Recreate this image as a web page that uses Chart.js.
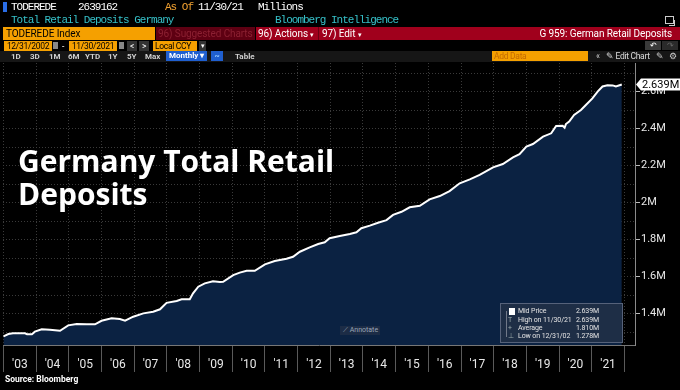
<!DOCTYPE html>
<html>
<head>
<meta charset="utf-8">
<script src="https://cdn.jsdelivr.net/npm/chart.js@4.4.0/dist/chart.umd.min.js"></script>
<style>
body{margin:0;background:#000;width:680px;height:390px;overflow:hidden;position:relative;font-family:Roboto,sans-serif;color:#fff}
#c{position:absolute;left:0;top:0}
.a{position:absolute;white-space:nowrap}
.mono{font-family:"Liberation Mono",monospace;font-size:11px;letter-spacing:-1px;line-height:13px}
.bar{font-size:10px;line-height:13px;letter-spacing:-0.1px}
.sm{font-size:8.5px;line-height:10px;letter-spacing:-0.3px}
.btn{font-size:8px;line-height:10px;font-weight:bold;color:#cfcfcf}
.lg{font-size:7px;line-height:8.4px;letter-spacing:-0.1px;color:#e4e4e4}
</style>
</head>
<body>
<canvas id="c" width="680" height="390"></canvas>

<!-- header rows -->
<div class="a" style="left:3px;top:2px;width:4px;height:10px;background:#2a6ee8"></div>
<div class="a mono" style="left:11px;top:1px">TODEREDE</div>
<div class="a mono" style="left:78px;top:1px">2639162</div>
<div class="a mono" style="left:165px;top:1px;color:#f0a030">As Of</div>
<div class="a mono" style="left:198px;top:1px">11/30/21</div>
<div class="a mono" style="left:258px;top:1px">Millions</div>
<div class="a mono" style="left:11px;top:14px;color:#36c0c8">Total Retail Deposits Germany</div>
<div class="a mono" style="left:275px;top:14px;color:#36c0c8">Bloomberg Intelligence</div>
<div class="a" style="left:665px;top:16px;width:7px;height:6px;border:1px solid #ccc"></div>
<div class="a" style="left:669px;top:20px;width:5px;height:5px;border-right:1px solid #ccc;border-bottom:1px solid #ccc"></div>

<div class="a bar" style="left:3px;top:27px;width:152px;height:13px;background:#f5a000;color:#000;padding-left:3px;box-sizing:border-box">TODEREDE Index</div>
<div class="a bar" style="left:156px;top:27px;width:99px;height:13px;background:#5e0012;color:#8c2032;padding-left:2px;box-sizing:border-box;overflow:hidden">96) Suggested Charts</div>
<div class="a bar" style="left:256px;top:27px;width:424px;height:13px;background:#a0001c"></div>
<div class="a bar" style="left:258px;top:27px">96) Actions <span style="font-size:7px">▾</span></div>
<div class="a" style="left:318px;top:27px;width:1px;height:13px;background:#6a0010"></div>
<div class="a bar" style="left:322px;top:27px">97) Edit <span style="font-size:7px">▾</span></div>
<div class="a bar" style="right:8px;top:27px">G 959: German Retail Deposits</div>

<div class="a sm" style="left:4px;top:41px;width:48px;height:10px;background:#f5a000;color:#000;text-align:center">12/31/2002</div>
<div class="a" style="left:53px;top:42px;width:5px;height:7px;background:#888"></div>
<div class="a sm" style="left:62px;top:41px">-</div>
<div class="a sm" style="left:69px;top:41px;width:48px;height:10px;background:#f5a000;color:#000;text-align:center">11/30/2021</div>
<div class="a" style="left:119px;top:42px;width:5px;height:7px;background:#888"></div>
<div class="a sm" style="left:127px;top:41px;width:10px;height:10px;background:#333;text-align:center">&lt;</div>
<div class="a sm" style="left:139px;top:41px;width:10px;height:10px;background:#333;text-align:center">&gt;</div>
<div class="a sm" style="left:153px;top:41px;width:44px;height:10px;background:#f5a000;color:#000;padding-left:2px;box-sizing:border-box">Local CCY</div>
<div class="a sm" style="left:199px;top:41px;width:7px;height:10px;background:#333;text-align:center;font-size:7px">▾</div>
<div class="a sm" style="left:645px;top:41px;width:16px;height:9px;background:#3a3a3a;text-align:center;font-size:8px;line-height:9px">↶</div>
<div class="a sm" style="left:662px;top:41px;width:16px;height:9px;background:#2a2a2a;color:#666;text-align:center;font-size:8px;line-height:9px">↷</div>

<div class="a" style="left:0;top:51px;width:680px;height:11px;background:#161616"></div>
<div class="a btn" style="left:11px;top:52px">1D</div>
<div class="a btn" style="left:30px;top:52px">3D</div>
<div class="a btn" style="left:49px;top:52px">1M</div>
<div class="a btn" style="left:68px;top:52px">6M</div>
<div class="a btn" style="left:85px;top:52px">YTD</div>
<div class="a btn" style="left:108px;top:52px">1Y</div>
<div class="a btn" style="left:127px;top:52px">5Y</div>
<div class="a btn" style="left:145px;top:52px">Max</div>
<div class="a btn" style="left:166px;top:51px;width:41px;height:10px;background:#1f5fd0;color:#fff;padding-left:3px;box-sizing:border-box">Monthly ▾</div>
<div class="a btn" style="left:211px;top:51px;width:12px;height:10px;background:#1f5fd0;color:#9cf;text-align:center">~</div>
<div class="a btn" style="left:235px;top:52px">Table</div>
<div class="a sm" style="left:492px;top:51px;width:96px;height:10px;background:#f5a000;color:#c46a00;padding-left:2px;box-sizing:border-box">Add Data</div>
<div class="a sm" style="left:596px;top:51px;color:#ccc">«</div>
<div class="a sm" style="left:606px;top:51px;color:#ddd">✎ Edit Chart</div>
<div class="a sm" style="left:656px;top:51px;color:#ccc">✎</div>
<div class="a sm" style="left:669px;top:51px;color:#ccc">⚙</div>

<!-- title -->
<div class="a" style="left:18px;top:145px;font-family:'Open Sans',sans-serif;font-weight:bold;font-size:30px;line-height:32.5px">Germany Total Retail<br>Deposits</div>

<!-- annotate -->
<div class="a" style="left:340px;top:326px;width:40px;height:9px;background:#1c2c46;color:#9aa6b8;font-size:7px;line-height:9px;padding-left:3px;box-sizing:border-box">⟋ Annotate</div>

<!-- legend box -->
<div class="a" style="left:500px;top:303px;width:123px;height:40px;background:rgba(34,48,70,0.85);border:1px solid #56627a;box-sizing:border-box"></div>
<div class="a" style="left:506px;top:311px;width:1px;height:26px;background:#707888"></div>
<div class="a" style="left:509px;top:308px;width:6px;height:7px;background:#fff"></div>
<div class="a lg" style="left:508px;top:316px;color:#9aa">T</div>
<div class="a lg" style="left:508px;top:324px;color:#9aa">+</div>
<div class="a lg" style="left:508px;top:332px;color:#9aa">⊥</div>
<div class="a lg" style="left:518px;top:307px">Mid Price</div>
<div class="a lg" style="left:518px;top:316px">High on 11/30/21</div>
<div class="a lg" style="left:518px;top:324px">Average</div>
<div class="a lg" style="left:518px;top:332px">Low on 12/31/02</div>
<div class="a lg" style="right:81px;top:307px">2.639M</div>
<div class="a lg" style="right:81px;top:316px">2.639M</div>
<div class="a lg" style="right:81px;top:324px">1.810M</div>
<div class="a lg" style="right:81px;top:332px">1.278M</div>

<div class="a" style="left:5px;top:374px;font-size:8.5px;font-weight:bold">Source: Bloomberg</div>

<script>
// month-end dates as decimal years, values in M (millions of EUR millions)
var dates = [
  2003.00, 2003.15, 2003.29, 2003.66, 2003.72, 2003.87, 2003.96,
  2004.17, 2004.42, 2004.73, 2004.98,
  2005.24, 2005.55, 2005.80,
  2006.00, 2006.31, 2006.56, 2006.72, 2006.97,
  2007.28, 2007.58, 2007.79, 2007.99,
  2008.30, 2008.45, 2008.70, 2008.80, 2008.96,
  2009.16, 2009.41, 2009.62, 2009.72,
  2010.03, 2010.23, 2010.44, 2010.69,
  2011.00, 2011.30, 2011.66, 2011.86,
  2012.07, 2012.37, 2012.63, 2012.83, 2012.98,
  2013.29, 2013.60, 2013.80, 2013.95,
  2014.21, 2014.46, 2014.72, 2014.92,
  2015.18, 2015.43, 2015.74,
  2016.04, 2016.35, 2016.65, 2016.96,
  2017.27, 2017.57, 2017.98,
  2018.28, 2018.59, 2018.79,
  2019.00, 2019.20, 2019.51, 2019.76, 2019.91,
  2020.11, 2020.17, 2020.21, 2020.31, 2020.46, 2020.67, 2020.82,
  2021.02, 2021.18, 2021.33, 2021.48, 2021.64, 2021.74, 2021.92
];
var deposits = [
  1.278, 1.290, 1.294, 1.294, 1.289, 1.289, 1.303,
  1.316, 1.314, 1.308, 1.337,
  1.344, 1.343, 1.343,
  1.362, 1.375, 1.371, 1.362, 1.384,
  1.402, 1.411, 1.424, 1.459,
  1.469, 1.478, 1.478, 1.510, 1.546,
  1.564, 1.575, 1.571, 1.573,
  1.609, 1.622, 1.632, 1.632,
  1.667, 1.685, 1.697, 1.708,
  1.735, 1.759, 1.777, 1.786, 1.808,
  1.820, 1.831, 1.840, 1.862,
  1.876, 1.892, 1.906, 1.934,
  1.951, 1.975, 1.983,
  2.018, 2.036, 2.063, 2.105,
  2.126, 2.150, 2.191,
  2.209, 2.245, 2.262,
  2.303, 2.317, 2.357, 2.375, 2.415,
  2.416, 2.405, 2.425, 2.438, 2.474, 2.501, 2.528,
  2.564, 2.600, 2.628, 2.635, 2.634, 2.628, 2.639
];
var years = [2003, 2004, 2005, 2006, 2007, 2008, 2009, 2010, 2011, 2012, 2013, 2014, 2015, 2016, 2017, 2018, 2019, 2020, 2021];
var yearLabels = ["'03", "'04", "'05", "'06", "'07", "'08", "'09", "'10", "'11", "'12", "'13", "'14", "'15", "'16", "'17", "'18", "'19", "'20", "'21"];
var yGrid = [1.3, 1.4, 1.5, 1.6, 1.7, 1.8, 1.9, 2.0, 2.1, 2.2, 2.3, 2.4, 2.5, 2.6, 2.7];
var yLabeled = [1.4, 1.6, 1.8, 2.0, 2.2, 2.4, 2.6];

function isLabeled(v) {
    return yLabeled.some(function (t) { return Math.abs(t - v) < 1e-6; });
}

// white price tag on the right axis at the last value
var priceTag = {
    id: 'priceTag',
    afterDraw: function (chart) {
        var ctx = chart.ctx;
        var last = deposits[deposits.length - 1];
        var y = chart.scales.y.getPixelForValue(last);
        var x = chart.chartArea.right + 1;
        ctx.save();
        ctx.fillStyle = '#fff';
        ctx.beginPath();
        ctx.moveTo(x, y);
        ctx.lineTo(x + 5, y - 6);
        ctx.lineTo(680, y - 6);
        ctx.lineTo(680, y + 6);
        ctx.lineTo(x + 5, y + 6);
        ctx.closePath();
        ctx.fill();
        ctx.fillStyle = '#000';
        ctx.font = '11px Roboto';
        ctx.textBaseline = 'middle';
        ctx.fillText((Math.round(last * 1000) / 1000) + 'M', x + 6, y + 0.5);
        ctx.restore();
    }
};

var ctx = document.getElementById('c').getContext('2d');
new Chart(ctx, {
    type: 'line',
    data: {
        datasets: [{
            data: dates.map(function (d, i) { return { x: d, y: deposits[i] }; }),
            borderColor: '#ffffff',
            borderWidth: 2,
            backgroundColor: '#0b2242',
            fill: 'start',
            pointRadius: 0,
            tension: 0
        }]
    },
    options: {
        responsive: false,
        animation: false,
        devicePixelRatio: 1,
        layout: { padding: { left: 3, top: 63, right: 0, bottom: 0 } },
        plugins: { legend: { display: false }, tooltip: { enabled: false } },
        scales: {
            x: {
                type: 'linear',
                min: 2002.985,
                max: 2022.324,
                afterFit: function (s) { s.height = 45; },
                afterBuildTicks: function (s) {
                    var t = [];
                    years.forEach(function (y) { t.push({ value: y }); t.push({ value: y + 0.5 }); });
                    t.push({ value: years[years.length - 1] + 1 });
                    s.ticks = t;
                },
                grid: {
                    color: function (c) { return c.tick && Number.isInteger(c.tick.value) ? '#3a3a3a' : 'transparent'; },
                    tickColor: function (c) { return c.tick && Number.isInteger(c.tick.value) ? '#5a5a5a' : 'transparent'; },
                    tickLength: 27
                },
                border: { display: true, color: '#777', dash: [1, 2] },
                ticks: {
                    autoSkip: false,
                    maxRotation: 0,
                    padding: -14,
                    color: '#e8e8e8',
                    font: { family: 'Roboto', size: 12 },
                    callback: function (v) {
                        if (Number.isInteger(v)) return '';
                        return yearLabels[years.indexOf(Math.floor(v))];
                    }
                }
            },
            y: {
                position: 'right',
                min: 1.231,
                max: 2.755,
                afterFit: function (s) { s.width = 45; },
                afterBuildTicks: function (s) {
                    s.ticks = yGrid.map(function (v) { return { value: v }; });
                },
                grid: {
                    color: '#3a3a3a',
                    tickLength: 5,
                    tickColor: function (c) { return c.tick && isLabeled(c.tick.value) ? '#bbb' : 'transparent'; }
                },
                border: { display: true, color: '#8a8a8a', dash: [1, 2] },
                ticks: {
                    padding: 1,
                    color: '#e8e8e8',
                    font: { family: 'Roboto', size: 11 },
                    callback: function (v) {
                        return isLabeled(v) ? (Math.round(v * 10) / 10) + 'M' : '';
                    }
                }
            }
        }
    },
    plugins: [priceTag]
});
</script>
</body>
</html>
